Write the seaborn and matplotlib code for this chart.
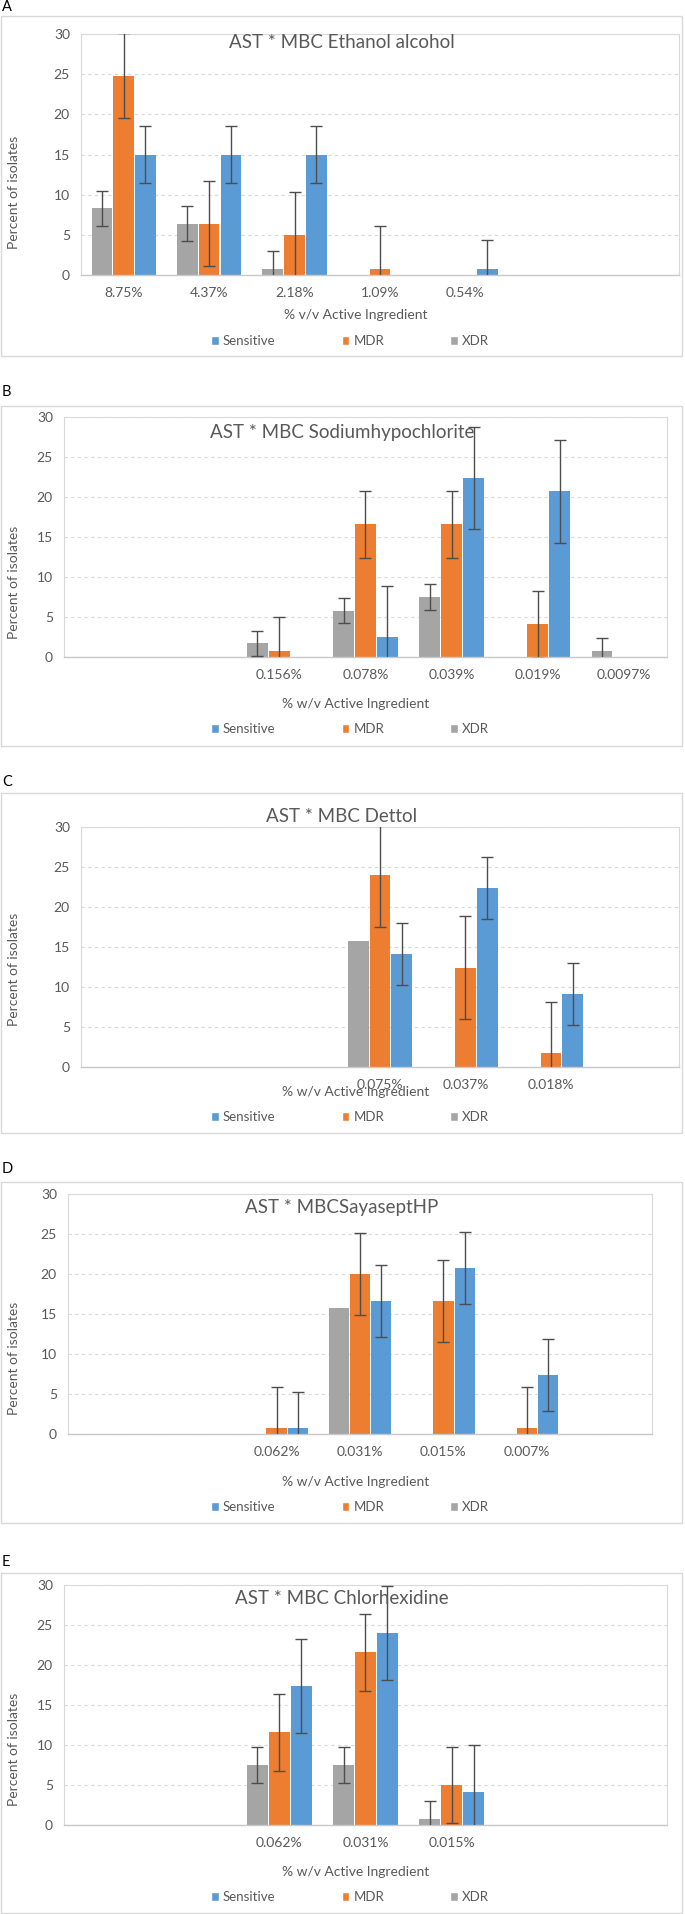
import numpy as np
import pandas as pd
import matplotlib.pyplot as plt
from matplotlib.patches import Rectangle, Patch
import seaborn as sns

# series drawn left to right inside each group
series = ["XDR", "MDR", "Sensitive"]
legend_order = ["Sensitive", "MDR", "XDR"]
colors = {"Sensitive": "#5B9BD5", "MDR": "#ED7D31", "XDR": "#A5A5A5"}

# A - Ethanol alcohol (7 category slots, blank ones are empty)
a_labels = ["8.75%", "4.37%", "2.18%", "1.09%", "0.54%", "", ""]
a_xdr = [8.3, 6.4, 0.8, 0, 0, 0, 0]
a_mdr = [24.8, 6.4, 5.0, 0.8, 0, 0, 0]
a_sens = [15.0, 15.0, 15.0, 0, 0.8, 0, 0]
a_err = [2.2, 5.3, 3.5]  # XDR, MDR, Sensitive

# B - Sodium hypochlorite
b_labels = ["", "", "0.156%", "0.078%", "0.039%", "0.019%", "0.0097%"]
b_xdr = [0, 0, 1.7, 5.8, 7.5, 0, 0.8]
b_mdr = [0, 0, 0.8, 16.6, 16.6, 4.1, 0]
b_sens = [0, 0, 0, 2.5, 22.4, 20.7, 0]
b_err = [1.6, 4.2, 6.4]

# C - Dettol
c_labels = ["", "", "", "0.075%", "0.037%", "0.018%", ""]
c_xdr = [0, 0, 0, 15.7, 0, 0, 0]
c_mdr = [0, 0, 0, 24.0, 12.4, 1.7, 0]
c_sens = [0, 0, 0, 14.1, 22.4, 9.1, 0]
c_err = [0, 6.45, 3.9]

# D - Sayasept HP
d_labels = ["", "", "0.062%", "0.031%", "0.015%", "0.007%", ""]
d_xdr = [0, 0, 0, 15.8, 0, 0, 0]
d_mdr = [0, 0, 0.8, 20.0, 16.6, 0.8, 0]
d_sens = [0, 0, 0.8, 16.6, 20.7, 7.4, 0]
d_err = [0, 5.1, 4.5]

# E - Chlorhexidine
e_labels = ["", "", "0.062%", "0.031%", "0.015%", "", ""]
e_xdr = [0, 0, 7.5, 7.5, 0.8, 0, 0]
e_mdr = [0, 0, 11.6, 21.6, 5.0, 0, 0]
e_sens = [0, 0, 17.4, 24.0, 4.1, 0, 0]
e_err = [2.2, 4.8, 5.9]

W, H = 685, 1914

# layout in pixels: plot (left, right, top, bottom), box (top, bottom), tag/title/xlabel/legend y
panels = [
    dict(tag="A", title="AST * MBC Ethanol alcohol", xlabel="% v/v Active Ingredient",
         labels=a_labels, vals=[a_xdr, a_mdr, a_sens], err=a_err,
         plot=(81, 679, 34, 275), box=(16, 356), tag_y=7, title_y=42, xlab_y=315, leg_y=341),
    dict(tag="B", title="AST * MBC Sodiumhypochlorite", xlabel="% w/v Active Ingredient",
         labels=b_labels, vals=[b_xdr, b_mdr, b_sens], err=b_err,
         plot=(64, 667, 417, 657), box=(406, 746), tag_y=392, title_y=432, xlab_y=704, leg_y=729),
    dict(tag="C", title="AST * MBC Dettol", xlabel="% w/v Active Ingredient",
         labels=c_labels, vals=[c_xdr, c_mdr, c_sens], err=c_err,
         plot=(81, 679, 827, 1067), box=(793, 1133), tag_y=782, title_y=817, xlab_y=1092, leg_y=1117),
    dict(tag="D", title="AST * MBCSayaseptHP", xlabel="% w/v Active Ingredient",
         labels=d_labels, vals=[d_xdr, d_mdr, d_sens], err=d_err,
         plot=(68, 652, 1194, 1434), box=(1182, 1523), tag_y=1169, title_y=1208, xlab_y=1482, leg_y=1507),
    dict(tag="E", title="AST * MBC Chlorhexidine", xlabel="% w/v Active Ingredient",
         labels=e_labels, vals=[e_xdr, e_mdr, e_sens], err=e_err,
         plot=(64, 667, 1585, 1825), box=(1573, 1913), tag_y=1562, title_y=1598, xlab_y=1872, leg_y=1897),
]

sns.set_theme(style="white")
plt.rcParams['font.family'] = ['Lato', 'DejaVu Sans']

text_gray = "#595959"
line_gray = "#D9D9D9"

fig = plt.figure(figsize=(W / 100, H / 100), dpi=100)


def fy(y):
    return 1 - y / H


for p in panels:
    l, r, t, b = p["plot"]
    ax = fig.add_axes([l / W, fy(b), (r - l) / W, (b - t) / H])

    rows = []
    for name, vals in zip(series, p["vals"]):
        for slot, v in enumerate(vals):
            rows.append((slot, name, v))
    df = pd.DataFrame(rows, columns=["slot", "group", "percent"])

    sns.barplot(data=df, x="slot", y="percent", hue="group", hue_order=series,
                order=list(range(len(p["labels"]))), palette=colors,
                saturation=1, width=0.765, gap=0.05, errorbar=None,
                legend=False, linewidth=0, ax=ax)

    # constant error bars per series, like the spreadsheet chart
    for cont, e in zip(ax.containers, p["err"]):
        for bar in cont:
            h = bar.get_height()
            if h > 0 and e > 0:
                cx = bar.get_x() + bar.get_width() / 2
                ax.errorbar(cx, h, yerr=e, fmt="none", ecolor="#4D4D4D",
                            elinewidth=1.0, capsize=4, capthick=1.0, zorder=4)

    ax.set_xlim(-0.5, len(p["labels"]) - 0.5)
    ax.set_ylim(0, 30)
    ax.set_yticks(np.arange(0, 31, 5))
    ax.set_xticks(range(len(p["labels"])))
    ax.set_xticklabels(p["labels"])
    ax.set_xlabel("")
    ax.set_ylabel("")
    ax.tick_params(axis="both", length=0, labelsize=10, labelcolor=text_gray)
    ax.tick_params(axis="x", pad=8.5)
    ax.tick_params(axis="y", pad=8)
    ax.yaxis.grid(True, linestyle=(0, (3, 3)), color=line_gray, linewidth=0.8)
    ax.set_axisbelow(True)
    for side in ["left", "right", "top"]:
        ax.spines[side].set_color(line_gray)
        ax.spines[side].set_linewidth(0.8)
    ax.spines["bottom"].set_color("#C8C8C8")
    ax.spines["bottom"].set_linewidth(1.0)

    # chart box and texts
    bt, bb = p["box"]
    fig.add_artist(Rectangle((1 / W, fy(bb)), 681 / W, (bb - bt) / H,
                             transform=fig.transFigure, fill=False,
                             edgecolor=line_gray, linewidth=1.0))
    fig.text(2 / W, fy(p["tag_y"]), p["tag"], fontsize=10.5, color="black",
             ha="left", va="center")
    fig.text(342 / W, fy(p["title_y"]), p["title"], fontsize=13.5,
             color=text_gray, ha="center", va="center")
    fig.text(356 / W, fy(p["xlab_y"]), p["xlabel"], fontsize=10,
             color=text_gray, ha="center", va="center")
    fig.text(14 / W, fy((bt + bb) / 2 + 6), "Percent of isolates", fontsize=10,
             color=text_gray, ha="center", va="center", rotation=90)

    handles = [Patch(facecolor=colors[n], label=n) for n in legend_order]
    leg = fig.legend(handles=handles, loc="center", ncol=3,
                     bbox_to_anchor=(350 / W, fy(p["leg_y"])), frameon=False,
                     fontsize=9.5, handlelength=0.6, handleheight=0.6,
                     handletextpad=0.3, columnspacing=5.0)
    for txt in leg.get_texts():
        txt.set_color(text_gray)

fig.savefig("out.png", dpi=100, facecolor="white")
